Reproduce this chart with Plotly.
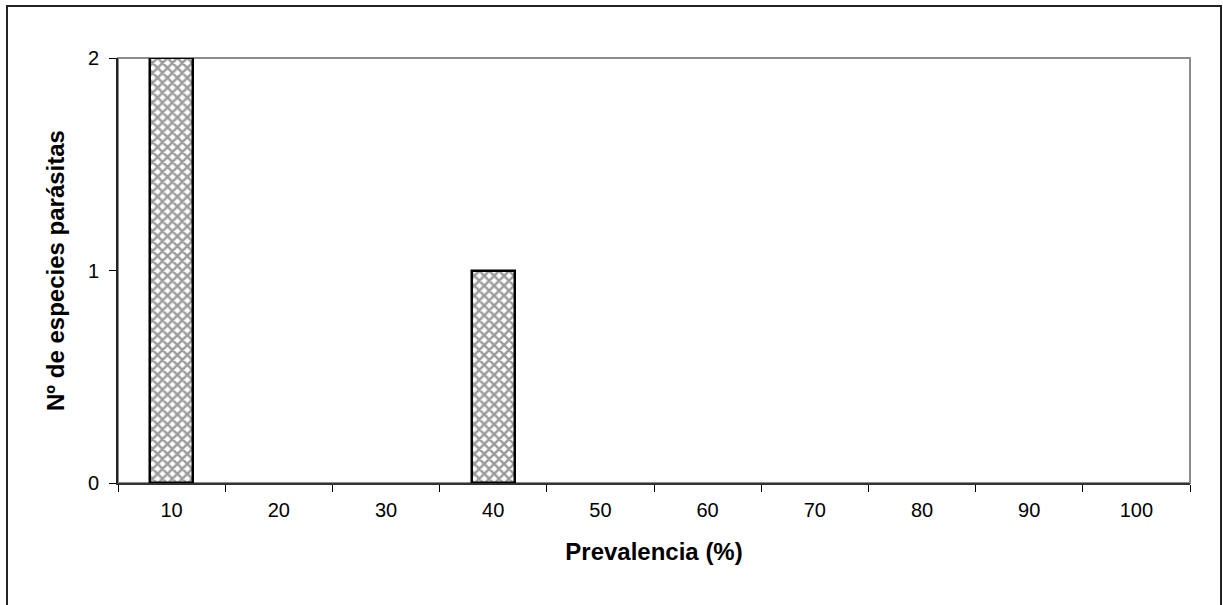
import plotly.graph_objects as go

categories = ["10", "20", "30", "40", "50", "60", "70", "80", "90", "100"]
values = [2, 0, 0, 1, 0, 0, 0, 0, 0, 0]
y_ticks = [0, 1, 2]

W, H = 1223, 605
L, R, T, B = 118, 1190, 58, 483

fig = go.Figure()
fig.add_trace(go.Bar(
    x=categories, y=values, width=0.4,
    marker=dict(color="white",
                line=dict(color="black", width=[2.5 if v > 0 else 0 for v in values]),
                pattern=dict(shape="x", fgcolor="#3a3a3a", bgcolor="white",
                             size=7, solidity=0.6)),
    showlegend=False,
))

pw, ph = R - L, B - T
def px(x):
    return (x - L) / pw
def py(y):
    return (B - y) / ph

fig.add_shape(type="rect", xref="paper", yref="paper",
              x0=0, x1=1, y0=0, y1=1,
              line=dict(color="#8c8c8c", width=2), layer="below")
fig.add_shape(type="rect", xref="paper", yref="paper",
              x0=px(7), x1=px(1221), y0=py(640), y1=py(6),
              line=dict(color="#222222", width=2), layer="below")

font = "Liberation Sans, Arial, sans-serif"
fig.update_layout(
    width=W, height=H,
    margin=dict(l=L, r=W - R, t=T, b=H - B),
    plot_bgcolor="white", paper_bgcolor="white",
    font=dict(family=font, size=20, color="black"),
    bargap=0,
    xaxis=dict(type="category", tickson="boundaries", ticks="outside",
               ticklen=7, tickcolor="black", showline=True, linecolor="#333333",
               linewidth=2, showgrid=False, zeroline=False,
               tickfont=dict(size=20), ticklabelstandoff=8,
               title=dict(text="<b>Prevalencia (%)</b>", font=dict(size=24), standoff=23)),
    yaxis=dict(range=[0, 2], tickvals=y_ticks, ticks="outside", ticklen=7,
               tickcolor="black", showline=True, linecolor="#222222", linewidth=2,
               showgrid=False, zeroline=False, tickfont=dict(size=20),
               ticklabelstandoff=6,
               title=dict(text="<b>Nº de especies parásitas</b>", font=dict(size=24), standoff=16)),
)

fig.write_html("out.html", config={"displayModeBar": False},
               post_script="document.body.style.margin='0';")
